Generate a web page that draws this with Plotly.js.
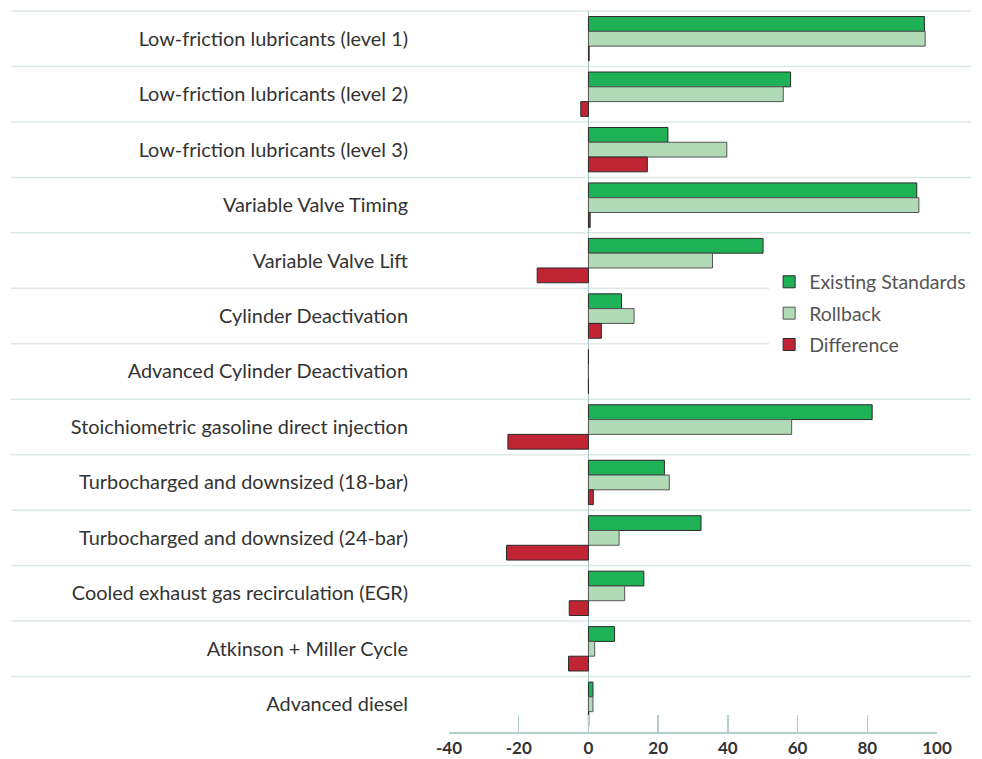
<!DOCTYPE html>
<html>
<head>
<meta charset="utf-8">
<script src="https://cdn.plot.ly/plotly-3.0.1.min.js"></script>
<style>html,body{margin:0;padding:0;background:#fff;}#chart{width:982px;height:759px;}</style>
</head>
<body>
<div id="chart"></div>
<script>
const categories = [
  "Low-friction lubricants (level 1)",
  "Low-friction lubricants (level 2)",
  "Low-friction lubricants (level 3)",
  "Variable Valve Timing",
  "Variable Valve Lift",
  "Cylinder Deactivation",
  "Advanced Cylinder Deactivation",
  "Stoichiometric gasoline direct injection",
  "Turbocharged and downsized (18-bar)",
  "Turbocharged and downsized (24-bar)",
  "Cooled exhaust gas recirculation (EGR)",
  "Atkinson + Miller Cycle",
  "Advanced diesel"
];
const existingStandards = [96.4, 58.0, 22.8, 94.2, 50.1, 9.5, 0, 81.4, 21.8, 32.3, 15.9, 7.5, 1.3];
const rollback          = [96.6, 55.9, 39.7, 94.8, 35.6, 13.1, 0, 58.3, 23.2, 8.8, 10.4, 1.8, 1.3];
const difference        = [0.2, -2.2, 16.9, 0.5, -14.7, 3.7, 0, -23.1, 1.4, -23.5, -5.5, -5.7, 0.1];
const xTicks = [-40, -20, 0, 20, 40, 60, 80, 100];

function barTrace(name, vals, color, border, grp) {
  return {
    type: "bar", orientation: "h", name: name, legendgroup: grp,
    x: vals, y: categories,
    marker: {color: color, line: {color: border, width: 1}},
    hoverinfo: "x+y+name"
  };
}
const data = [
  barTrace("Existing Standards", existingStandards, "#1eb155", "#2b2b2b", "g1"),
  barTrace("Rollback", rollback, "#b1dab6", "#555555", "g2"),
  barTrace("Difference", difference, "#c12533", "#2b2b2b", "g3")
];

// horizontal separators at category boundaries, extended across the label area
const n = categories.length;
const shapes = [];
for (let i = 0; i < n; i++) {
  const yy = 1 - i / n;
  shapes.push({type: "line", xref: "paper", yref: "paper", x0: -0.8975, x1: 1.0697, y0: yy, y1: yy,
    line: {color: "#dce9e6", width: 1.5}, layer: "below"});
}

const layout = {
  width: 982, height: 759,
  margin: {l: 449, r: 45, t: 11, b: 27},
  paper_bgcolor: "#ffffff", plot_bgcolor: "#ffffff",
  font: {family: "Lato, 'Open Sans', sans-serif", color: "#333333"},
  barmode: "group", bargap: 0.2, bargroupgap: 0,
  showlegend: true,
  legend: {x: 0.656, xanchor: "left", y: 0.651, yanchor: "top",
    bgcolor: "#ffffff", font: {size: 19.5, color: "#555555", family: "Lato, sans-serif"},
    tracegroupgap: 3},
  xaxis: {
    range: [-40, 100], tickvals: xTicks, ticktext: xTicks.map(String),
    showgrid: false, zeroline: true, zerolinecolor: "#9cc3bf", zerolinewidth: 1.5,
    showline: true, linecolor: "#b3cfcc", linewidth: 1.5,
    ticks: "inside", ticklen: 17, tickcolor: "#b3cfcc", tickwidth: 1.5,
    tickfont: {size: 17, color: "#333333", family: "Lato, sans-serif", weight: "bold"},
    fixedrange: true
  },
  yaxis: {
    type: "category", autorange: "reversed",
    showgrid: false, zeroline: false, showline: false, ticks: "",
    ticklabelstandoff: 40,
    tickfont: {size: 19.9, color: "#333333", family: "Lato, sans-serif"},
    fixedrange: true
  },
  shapes: shapes
};

Plotly.newPlot("chart", data, layout, {displayModeBar: false, staticPlot: true});
</script>
</body>
</html>
